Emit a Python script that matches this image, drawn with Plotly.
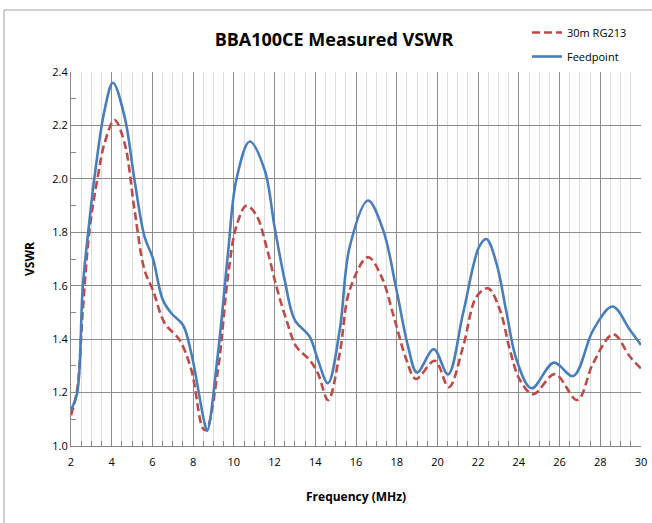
import plotly.graph_objects as go

# Feedpoint (blue, solid)
feed_freq = [2.0, 2.3, 2.58, 2.91, 3.16, 3.65, 4.06, 4.63, 5.12, 5.61, 6.02, 6.51, 6.93, 7.5, 7.91,
             8.56, 8.69, 9.22, 9.71, 10.12, 10.78, 11.51, 12.0, 12.5, 12.99, 13.72, 14.13, 14.62,
             15.2, 15.69, 16.59, 17.33, 17.99, 18.56, 19.0, 19.82, 20.52, 21.26, 22.05, 22.41,
             22.9, 23.4, 23.89, 24.62, 25.72, 26.67, 27.65, 28.6, 29.46, 30.0]
feed_vswr = [1.135, 1.197, 1.597, 1.846, 2.01, 2.258, 2.36, 2.233, 1.996, 1.784, 1.703, 1.547, 1.497, 1.453, 1.347,
             1.086, 1.057, 1.347, 1.72, 1.996, 2.14, 2.034, 1.82, 1.62, 1.472, 1.41, 1.322, 1.235,
             1.434, 1.746, 1.919, 1.809, 1.584, 1.372, 1.275, 1.362, 1.268, 1.497, 1.746, 1.775,
             1.684, 1.497, 1.322, 1.216, 1.312, 1.262, 1.434, 1.522, 1.434, 1.378]

# 30m RG213 (red, dashed)
rg_freq = [2.0, 2.3, 2.58, 2.91, 3.32, 3.65, 4.14, 4.63, 5.12, 5.61, 6.02, 6.6, 7.33, 7.91, 8.48,
           8.64, 9.22, 9.71, 10.12, 10.61, 11.1, 11.6, 12.09, 12.58, 13.07, 13.72, 14.13, 14.63,
           15.2, 15.69, 16.59, 17.25, 17.9, 18.48, 18.94, 19.87, 20.56, 21.26, 21.92, 22.49,
           23.07, 23.56, 24.05, 24.71, 25.77, 26.87, 27.65, 28.64, 29.46, 30.0]
rg_vswr = [1.115, 1.21, 1.509, 1.809, 2.01, 2.134, 2.22, 2.134, 1.884, 1.659, 1.584, 1.46, 1.397, 1.285, 1.066,
           1.06, 1.285, 1.634, 1.821, 1.899, 1.865, 1.746, 1.597, 1.472, 1.372, 1.322, 1.272, 1.172,
           1.347, 1.584, 1.707, 1.634, 1.472, 1.322, 1.251, 1.319, 1.22, 1.372, 1.559, 1.59,
           1.509, 1.36, 1.247, 1.194, 1.269, 1.172, 1.31, 1.418, 1.334, 1.29]

x_ticks = list(range(2, 31, 2))
y_ticks = [1.0, 1.2, 1.4, 1.6, 1.8, 2.0, 2.2, 2.4]

FONT = "Open Sans"

fig = go.Figure()
fig.add_trace(go.Scatter(x=rg_freq, y=rg_vswr, name="30m RG213", mode="lines", legendgroup="rg",
                         line=dict(color="#BE4B48", width=2.6, dash="8px,4px", shape="spline", smoothing=1.0)))
fig.add_trace(go.Scatter(x=feed_freq, y=feed_vswr, name="Feedpoint", mode="lines", legendgroup="feed",
                         line=dict(color="#4A7EBB", width=2.6, shape="spline", smoothing=1.0)))

fig.update_layout(
    width=652, height=523,
    margin=dict(l=71, r=11, t=72, b=77, autoexpand=False),
    paper_bgcolor="white", plot_bgcolor="white",
    font=dict(family=FONT, color="#000000", size=11),
    title=dict(text="<b>BBA100CE Measured VSWR</b>", x=334 / 652, xanchor="center",
               y=1 - 40 / 523, yanchor="middle", font=dict(size=18, family=FONT)),
    legend=dict(xref="container", yref="container", x=527 / 652, xanchor="left",
                y=1 - 18 / 523, yanchor="top", traceorder="grouped",
                bgcolor="rgba(0,0,0,0)", font=dict(size=11), itemwidth=30,
                tracegroupgap=5),
    showlegend=True,
    xaxis=dict(range=[2, 30], tickvals=x_ticks, ticks="inside", ticklen=5, tickcolor="#888888",
               showgrid=True, gridcolor="#8C8C8C", gridwidth=1, automargin=False,
               minor=dict(dtick=0.5, showgrid=True, gridcolor="#DDDDDD", ticks="inside", ticklen=5,
                          tickcolor="#888888"),
               showline=True, linecolor="#888888", linewidth=1, zeroline=False,
               ticklabelstandoff=6,
               tickfont=dict(size=11)),
    yaxis=dict(range=[1.0, 2.4], tickvals=y_ticks, tickformat=".1f", ticks="inside", ticklen=5,
               tickcolor="#888888", showgrid=True, gridcolor="#8C8C8C", gridwidth=1, automargin=False,
               minor=dict(dtick=0.1, showgrid=False, ticks="inside", ticklen=5, tickcolor="#888888"),
               showline=True, linecolor="#888888", linewidth=1, zeroline=False,
               title=dict(text="<b>VSWR</b>", font=dict(size=12)),
               tickfont=dict(size=11)),
    annotations=[dict(text="<b>Frequency (MHz)</b>", xref="paper", yref="paper",
                      x=0.5, y=-(497 - 446) / 374, xanchor="center", yanchor="middle",
                      showarrow=False, font=dict(size=12))],
    shapes=[dict(type="rect", xref="paper", yref="paper",
                 x0=(4 - 71) / 570, x1=2.0, y0=-2.0, y1=(446 - 10) / 374,
                 line=dict(color="#A0A0A0", width=1), layer="below")],
)

fig.write_html("out.html", config={"displayModeBar": False},
               post_script="document.body.style.margin='0';document.body.style.overflow='hidden';")
